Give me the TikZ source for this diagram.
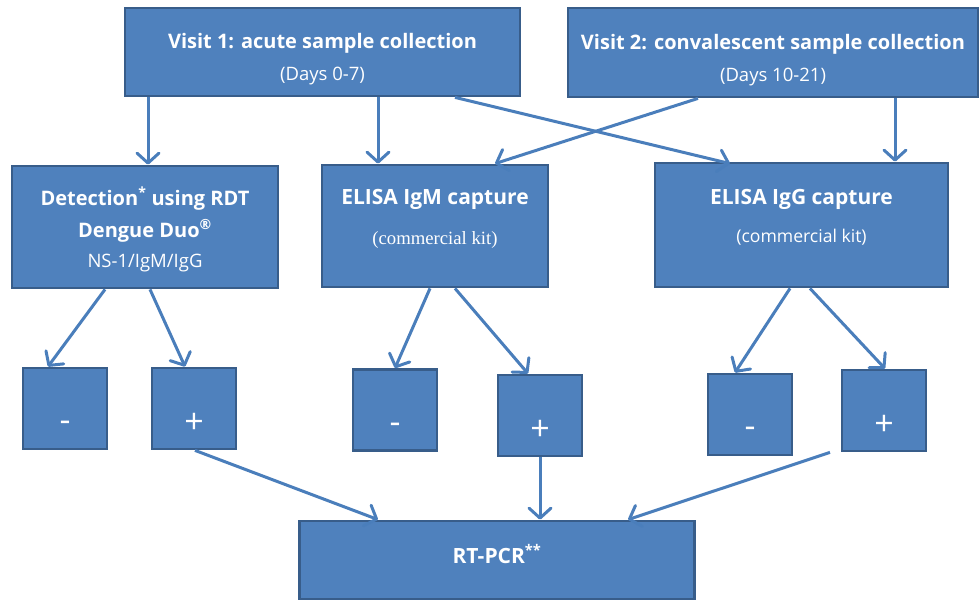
\documentclass[tikz,border=0pt]{standalone}
\usepackage{fontspec}
\setmainfont{Open Sans}
\newfontfamily\kitfont{Liberation Serif}
\usepackage{xcolor}
\usepackage{tikz}
\usetikzlibrary{positioning,arrows.meta}
\definecolor{BoxBlue}{HTML}{4F81BD}
\definecolor{BoxEdge}{HTML}{385D8A}
\definecolor{LinkBlue}{HTML}{4A7EBB}

\begin{document}
\begin{tikzpicture}[
      x=1pt, y=-1pt,
      every node/.style={align=center},
      box/.style={draw=BoxEdge, fill=BoxBlue, line width=2.8pt, text=white, inner sep=0pt,
        font=\fontsize{20}{32}\selectfont\bfseries},
      sign/.style={box, minimum width=84pt, minimum height=81pt, font=\fontsize{34}{34}\selectfont},
      arrow/.style={line width=3pt, LinkBlue, -{Straight Barb[length=10pt,width=22pt,line cap=round,line join=round]}}
    ]
      \useasboundingbox (0,0) rectangle (980,602);

      % Visits
      \node[box, minimum width=395pt, minimum height=88pt] (visitA) at (322.5,52)
        {\mbox{}\\[-2pt]Visit 1: acute sample collection\\\fontsize{18.5}{32}\selectfont\mdseries (Days 0-7)};
      \node[box, minimum width=410pt, minimum height=89pt] (visitB) at (773,52.5)
        {\mbox{}\\[-2pt]Visit 2: convalescent sample collection\\\fontsize{18.5}{32}\selectfont\mdseries (Days 10-21)};

      % Tests
      \node[box, minimum width=266pt, minimum height=122pt] (detect) at (145,227)
        {\mbox{}\\[-9pt]Detection\textsuperscript{*} using RDT\\
         Dengue Duo\textsuperscript{\textregistered}\\[-2pt]
         \fontsize{18.5}{32}\selectfont\mdseries NS-1/IgM/IgG};
      \node[box, minimum width=226pt, minimum height=122pt, font=\fontsize{21}{32}\selectfont\bfseries] (igm) at (435,226)
        {ELISA IgM capture\\[8pt]
         \kitfont\fontsize{18.7}{32}\selectfont\mdseries (commercial kit)\\[-14pt]\mbox{}};
      \node[box, minimum width=293pt, minimum height=124pt, font=\fontsize{21}{32}\selectfont\bfseries] (igg) at (801.5,225)
        {ELISA IgG capture\\[6pt]
         \fontsize{17.6}{32}\selectfont\mdseries (commercial kit)\\[-14pt]\mbox{}};

      % Results
      \node[sign] (negA) at (65,408.5) {\raisebox{-23pt}[0pt][0pt]{-}};
      \node[sign] (posA) at (194,408.5) {\raisebox{-25pt}[0pt][0pt]{+}};
      \node[sign] (negB) at (395,410) {\raisebox{-23pt}[0pt][0pt]{-}};
      \node[sign] (posB) at (540,415.5) {\raisebox{-25pt}[0pt][0pt]{+}};
      \node[sign] (negC) at (750,414.5) {\raisebox{-23pt}[0pt][0pt]{-}};
      \node[sign] (posC) at (884,410.5) {\raisebox{-25pt}[0pt][0pt]{+}};

      \node[box, minimum width=395pt, minimum height=78pt, font=\fontsize{21}{24}\selectfont\bfseries] (pcr) at (497,560)
        {RT-PCR\textsuperscript{**}\\[-12pt]\mbox{}};

      % Arrows
      \draw[arrow] ([xshift=-174.5pt]visitA.south) -- ([xshift=3pt]detect.north);
      \draw[arrow] ([xshift=55.5pt]visitA.south) -- ([xshift=-57pt]igm.north);
      \draw[arrow] ([xshift=132.5pt]visitA.south) -- ([xshift=-71.5pt,yshift=-2pt]igg.north);
      \draw[arrow] ([xshift=-75pt]visitB.south) -- ([xshift=60pt]igm.north);
      \draw[arrow] ([xshift=122pt]visitB.south) -- ([xshift=93.5pt]igg.north);

      \draw[arrow] ([xshift=-40pt]detect.south) -- ([xshift=-17pt]negA.north);
      \draw[arrow] ([xshift=5pt]detect.south) -- ([xshift=-9pt]posA.north);
      \draw[arrow] ([xshift=-5pt]igm.south) -- (negB.north);
      \draw[arrow] ([xshift=20pt]igm.south) -- ([xshift=-12pt]posB.north);
      \draw[arrow] ([xshift=-11.5pt]igg.south) -- ([xshift=-15pt]negC.north);
      \draw[arrow] ([xshift=8.5pt]igg.south) -- ([xshift=1pt]posC.north);

      \draw[arrow] ([xshift=1pt]posA.south) -- ([xshift=-119pt]pcr.north);
      \draw[arrow] (posB.south) -- ([xshift=43pt]pcr.north);
      \draw[arrow] ([xshift=-54pt]posC.south) -- ([xshift=131pt]pcr.north);

    \end{tikzpicture}
\end{document}
